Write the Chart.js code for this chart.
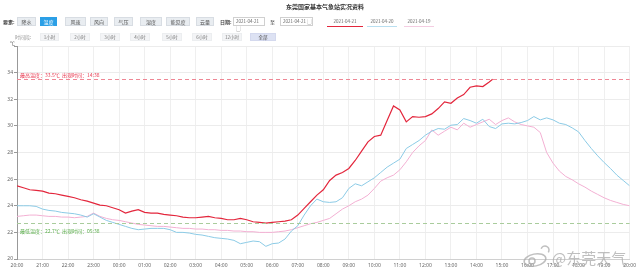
<!DOCTYPE html>
<html><head><meta charset="utf-8">
<script src="https://cdn.jsdelivr.net/npm/chart.js@4"></script>
<style>
html,body{margin:0;padding:0;background:#fff;width:640px;height:274px;overflow:hidden;font-family:"Noto Sans CJK SC","Noto Sans",sans-serif;}
#wrap{position:absolute;left:0;top:0;width:640px;height:274px;}
.t{position:absolute;font-size:5px;line-height:9px;color:#444;white-space:nowrap;}
.b{position:absolute;height:9px;top:17px;background:#e9edf1;border:1px solid #d8dde3;box-sizing:border-box;font-size:5px;line-height:7px;text-align:center;color:#555;}
.b.on{background:#2b9fe6;border-color:#2b9fe6;color:#fff;}
.in{position:absolute;top:17px;height:9px;border:1px solid #d0d0d0;box-sizing:border-box;font-size:4.5px;line-height:7px;color:#666;padding-left:2px;}
.tab{position:absolute;top:17px;height:9px;font-size:4.5px;line-height:8px;color:#666;text-align:center;border-bottom:1px solid #ccc;}
.b2{position:absolute;top:33px;height:8px;background:#f3f4f6;border:1px solid #eceef0;box-sizing:border-box;font-size:4.5px;line-height:6px;text-align:center;color:#777;}
.b2.on{background:#dde2f3;border-color:#d4d9ee;color:#555;}
#title{position:absolute;left:0;width:650px;top:2px;text-align:center;font-size:6px;font-weight:bold;color:#333;}
#wm{position:absolute;left:552px;top:250px;font-size:15px;color:rgba(170,170,170,0.75);line-height:16px;}
</style></head>
<body>
<div id="wrap"><canvas id="c" width="640" height="274"></canvas></div>
<div id="title">东莞国家基本气象站实况资料</div>
<div class="t" style="left:3px;top:17px;font-weight:bold;">要素:</div>
<div class="b" style="left:17px;width:19px;">降水</div>
<div class="b on" style="left:40px;width:17px;">温度</div>
<div class="b" style="left:65px;width:21px;">风速</div>
<div class="b" style="left:90px;width:18px;">风向</div>
<div class="b" style="left:114px;width:19px;">气压</div>
<div class="b" style="left:140px;width:22px;">湿度</div>
<div class="b" style="left:166px;width:24px;">能见度</div>
<div class="b" style="left:196px;width:18px;">云量</div>
<div class="t" style="left:220px;top:17px;font-weight:bold;">日期:</div>
<div class="in" style="left:233px;width:32px;">2021-04-21 ▢</div>
<div class="t" style="left:270px;top:17px;">至</div>
<div class="in" style="left:280px;width:33px;">2021-04-21 ▢</div>
<div class="tab" style="left:327px;width:36px;border-bottom-color:#e3263c;">2021-04-21</div>
<div class="tab" style="left:367px;width:30px;border-bottom-color:#b9dff0;">2021-04-20</div>
<div class="tab" style="left:404px;width:30px;border-bottom-color:#f4cde2;">2021-04-19</div>
<div class="t" style="left:15px;top:32px;color:#999;">时间段:</div>
<div class="b2" style="left:40px;width:19px;">1小时</div>
<div class="b2" style="left:70px;width:20px;">2小时</div>
<div class="b2" style="left:100px;width:20px;">3小时</div>
<div class="b2" style="left:130px;width:20px;">4小时</div>
<div class="b2" style="left:162px;width:20px;">5小时</div>
<div class="b2" style="left:192px;width:20px;">6小时</div>
<div class="b2" style="left:222px;width:20px;">12小时</div>
<div class="b2 on" style="left:250px;width:26px;">全部</div>
<div id="wm">@东莞天气</div>
<script>
const hourLabels = ['20:00','21:00','22:00','23:00','00:00','01:00','02:00','03:00','04:00','05:00','06:00','07:00','08:00','09:00','10:00','11:00','12:00','13:00','14:00','15:00','16:00','17:00','18:00','19:00','20:00'];
const stepHours = 0.25; // one sample every 15 minutes, starting 20:00
const yTicks = [20,22,24,26,28,30,32,34];
const maxTemp = 33.5, maxTime = '14:38';
const minTemp = 22.7, minTime = '05:38';

const red = [25.5,25.35,25.2,25.15,25.1,24.95,24.9,24.8,24.7,24.6,24.45,24.35,24.2,24.05,24.0,23.85,23.7,23.45,23.6,23.7,23.5,23.45,23.45,23.35,23.3,
23.25,23.15,23.1,23.1,23.15,23.2,23.1,23.05,22.95,22.95,23.05,22.95,22.8,22.75,22.7,22.75,22.8,22.85,22.95,23.3,23.8,24.3,24.8,25.2,25.9,26.3,26.5,26.8,27.4,28.1,
28.8,29.2,29.3,30.4,31.5,31.2,30.3,30.7,30.65,30.7,30.9,31.3,31.8,31.7,32.1,32.35,32.9,33.0,32.95,33.3];
const blue = [24.0,24.0,24.0,23.95,23.75,23.65,23.6,23.5,23.45,23.4,23.3,23.15,23.4,23.15,22.9,22.75,22.6,22.45,22.3,22.2,22.25,22.3,22.3,22.3,22.2,
22.0,22.0,21.95,21.85,21.8,21.7,21.6,21.55,21.5,21.4,21.15,21.25,21.35,21.3,20.95,21.15,21.2,21.5,22.1,22.5,23.3,24.0,24.5,24.3,24.25,24.3,24.6,25.3,25.65,25.5,25.8,26.1,26.5,26.9,27.2,27.5,
28.3,28.6,28.9,29.3,29.6,29.8,29.75,30.05,30.1,30.55,30.4,30.2,30.5,29.95,29.8,30.15,30.2,30.15,30.25,30.4,30.7,30.45,30.6,30.45,30.2,30.1,29.85,29.55,28.9,28.3,27.75,27.25,26.8,26.3,25.9,25.5];
const pink = [23.2,23.25,23.3,23.3,23.25,23.2,23.2,23.15,23.15,23.1,23.15,23.2,23.45,23.2,23.05,22.95,22.9,22.8,22.7,22.6,22.55,22.5,22.45,22.45,22.4,
22.35,22.3,22.3,22.25,22.25,22.2,22.2,22.15,22.15,22.1,22.1,22.05,22.05,22.0,22.0,22.0,22.05,22.1,22.2,
22.35,22.5,22.65,22.75,22.9,23.05,23.4,23.75,24.0,24.3,24.5,24.8,25.3,25.85,26.1,26.3,26.7,
27.3,28.0,28.5,28.9,29.7,29.3,29.6,29.9,29.7,30.2,29.9,30.1,30.3,30.5,30.1,30.4,30.6,30.3,30.1,30.0,29.9,
29.5,28.0,27.2,26.6,26.2,25.95,25.65,25.4,25.1,24.85,24.6,24.4,24.25,24.1,24.0];

function hoursFrom20(t){const [h,m]=t.split(':').map(Number);let v=h-20+m/60;if(v<0)v+=24;return v;}
const pts = arr => arr.map((v,i)=>({x:i*stepHours,y:v}));
const redData = pts(red); redData.push({x:hoursFrom20(maxTime),y:maxTemp});

const refPlugin = {
  id:'ref',
  afterDatasetsDraw(chart){
    const {ctx,chartArea:a,scales:{y}} = chart;
    ctx.save();
    ctx.setLineDash([4,3]); ctx.lineWidth=1;
    let yy = Math.round(y.getPixelForValue(maxTemp))+0.5;
    ctx.strokeStyle='#ef8795'; ctx.beginPath(); ctx.moveTo(a.left,yy); ctx.lineTo(a.right,yy); ctx.stroke();
    ctx.setLineDash([]);
    ctx.font='5px "Noto Sans CJK SC"'; ctx.textBaseline='middle'; ctx.fillStyle='#e8384f';
    ctx.fillText('最高温度：'+maxTemp+'℃  出现时间：'+maxTime, a.left+3, yy-4);
    ctx.setLineDash([4,3]);
    yy = Math.round(y.getPixelForValue(minTemp))+0.5;
    ctx.strokeStyle='#a9cc9c'; ctx.beginPath(); ctx.moveTo(a.left,yy); ctx.lineTo(a.right,yy); ctx.stroke();
    ctx.setLineDash([]);
    ctx.fillStyle='#5aae4a';
    ctx.fillText('最低温度：'+minTemp+'℃  出现时间：'+minTime, a.left+3, yy+8);
    ctx.fillStyle='#666'; ctx.textAlign='right';
    ctx.fillText('℃', a.left-2, a.top-3);
    // watermark logo
    ctx.strokeStyle='rgba(170,170,170,0.75)'; ctx.lineWidth=1.5;
    ctx.beginPath(); ctx.ellipse(535,260,11,6,-0.2,0,Math.PI*2); ctx.stroke();
    ctx.beginPath(); ctx.arc(532,261,3,0,Math.PI*2); ctx.stroke();
    ctx.beginPath(); ctx.arc(545,250,4,Math.PI*1.1,Math.PI*0.2); ctx.stroke();
    ctx.restore();
  }
};

new Chart(document.getElementById('c'),{
  type:'line',
  data:{datasets:[
    {data:redData,borderColor:'#e3263c',borderWidth:1.2,pointRadius:0,tension:0,order:1},
    {data:pts(blue),borderColor:'#8ccbe6',borderWidth:1,pointRadius:0,tension:0,order:2},
    {data:pts(pink),borderColor:'#f3b0d3',borderWidth:1,pointRadius:0,tension:0,order:3}
  ]},
  options:{
    responsive:false,animation:false,devicePixelRatio:1,
    layout:{padding:{top:46,right:8,left:0,bottom:0}},
    plugins:{legend:{display:false},tooltip:{enabled:false}},
    scales:{
      x:{type:'linear',min:0,max:24,
        afterFit(s){s.height=15;},
        afterBuildTicks(s){s.ticks=hourLabels.map((_,i)=>({value:i}));},
        ticks:{autoSkip:false,maxRotation:0,padding:4,font:{size:5,family:'Noto Sans'},color:'#666',callback:v=>hourLabels[v]},
        grid:{color:'#efefef',drawTicks:false},
        border:{color:'#d0d0d0'}
      },
      y:{min:20,max:36,
        afterFit(s){s.width=17;},
        afterBuildTicks(s){s.ticks=yTicks.concat([36]).map(v=>({value:v}));},
        ticks:{padding:1,font:{size:5,family:'Noto Sans'},color:'#666',callback:v=>yTicks.includes(v)?String(v):''},
        grid:{color:'#ececec',tickLength:3,tickColor:'#999'},
        border:{color:'#999'}
      }
    }
  },
  plugins:[refPlugin]
});
</script>
</body></html>
